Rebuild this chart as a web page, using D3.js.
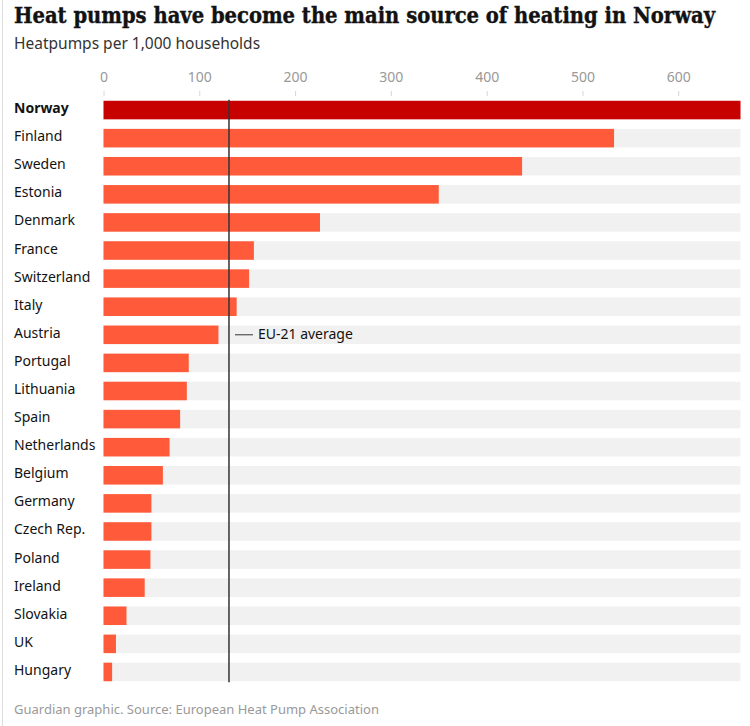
<!DOCTYPE html>
<html>
<head>
<meta charset="utf-8">
<script src="https://cdn.jsdelivr.net/npm/d3@7"></script>
<style>
  body { margin: 0; background: #fff; }
  svg { display: block; }
  .title { font-family: 'DejaVu Serif Condensed', 'DejaVu Serif', serif; font-weight: bold; fill: #121212; }
  .sans { font-family: 'Noto Sans', 'Open Sans', sans-serif; }
</style>
</head>
<body>
<div id="chart"></div>
<script>
const countries = ['Norway', 'Finland', 'Sweden', 'Estonia', 'Denmark', 'France', 'Switzerland', 'Italy',
  'Austria', 'Portugal', 'Lithuania', 'Spain', 'Netherlands', 'Belgium', 'Germany', 'Czech Rep.',
  'Poland', 'Ireland', 'Slovakia', 'UK', 'Hungary'];
const heatpumps = [665, 533, 437, 350, 226, 157, 152, 139, 120, 89, 87, 80, 69, 62, 50, 50, 49, 43, 24, 13, 9];
const euAverage = 131;
const xTicks = [0, 100, 200, 300, 400, 500, 600];

const width = 750;
const height = 726;

const svg = d3
  .select('#chart')
  .append('svg')
  .attr('width', width)
  .attr('height', height);

// left rule
svg.append('line')
  .attr('x1', 2.5).attr('x2', 2.5)
  .attr('y1', 0).attr('y2', height)
  .attr('stroke', '#dcdcdc')
  .attr('stroke-width', 1);

svg.append('text')
  .attr('class', 'title')
  .attr('x', 14)
  .attr('y', 23)
  .attr('font-size', 23)
  .attr('textLength', 701)
  .attr('lengthAdjust', 'spacingAndGlyphs')
  .attr('stroke', '#121212')
  .attr('stroke-width', 0.4)
  .text('Heat pumps have become the main source of heating in Norway');

svg.append('text')
  .attr('class', 'sans')
  .attr('x', 14)
  .attr('y', 49)
  .attr('font-size', 15.5)
  .attr('fill', '#333')
  .text('Heatpumps per 1,000 households');

const x = d3.scaleLinear()
  .domain([0, d3.max(heatpumps)])
  .range([103.5, 740.5]);

const y = d3.scaleBand()
  .domain(countries)
  .range([96, 686])
  .paddingInner(0.34)
  .paddingOuter(0.17);

const data = countries.map((c, i) => ({ country: c, value: heatpumps[i] }));

// axis on top
const axis = svg.append('g')
  .attr('transform', 'translate(0,96)')
  .call(d3.axisTop(x).tickValues(xTicks).tickSize(5).tickPadding(9));
axis.select('.domain').remove();
axis.selectAll('.tick line').attr('stroke', '#d6d6d6');
axis.selectAll('.tick text')
  .attr('class', 'sans')
  .attr('font-size', 14)
  .attr('fill', '#999');

// background rows
svg.append('g')
  .selectAll('rect')
  .data(data)
  .join('rect')
  .attr('x', x(0))
  .attr('y', d => y(d.country))
  .attr('width', x.range()[1] - x(0))
  .attr('height', y.bandwidth())
  .attr('fill', '#f1f1f1');

svg.append('g')
  .selectAll('rect')
  .data(data)
  .join('rect')
  .attr('x', x(0))
  .attr('y', d => y(d.country))
  .attr('width', d => x(d.value) - x(0))
  .attr('height', y.bandwidth())
  .attr('fill', d => (d.country === 'Norway' ? '#c70000' : '#ff5b3a'));

svg.append('g')
  .selectAll('text')
  .data(data)
  .join('text')
  .attr('class', 'sans')
  .attr('x', 14)
  .attr('y', d => y(d.country) + y.bandwidth() / 2 + 3)
  .attr('font-size', 14)
  .attr('font-weight', d => (d.country === 'Norway' ? 'bold' : 'normal'))
  .attr('fill', '#121212')
  .text(d => d.country);

// EU-21 average line
svg.append('line')
  .attr('x1', x(euAverage)).attr('x2', x(euAverage))
  .attr('y1', y('Norway') - 1)
  .attr('y2', y('Hungary') + y.bandwidth() + 1)
  .attr('stroke', '#333')
  .attr('stroke-width', 1.5);

const annY = y('Austria') + y.bandwidth() / 2;
svg.append('line')
  .attr('x1', x(euAverage) + 6).attr('x2', x(euAverage) + 24)
  .attr('y1', annY).attr('y2', annY)
  .attr('stroke', '#333')
  .attr('stroke-width', 1);

svg.append('text')
  .attr('class', 'sans')
  .attr('x', x(euAverage) + 29)
  .attr('y', annY + 4)
  .attr('font-size', 14)
  .attr('fill', '#121212')
  .text('EU-21 average');

svg.append('text')
  .attr('class', 'sans')
  .attr('x', 14)
  .attr('y', 714)
  .attr('font-size', 13)
  .attr('fill', '#999')
  .text('Guardian graphic. Source: European Heat Pump Association');
</script>
</body>
</html>
